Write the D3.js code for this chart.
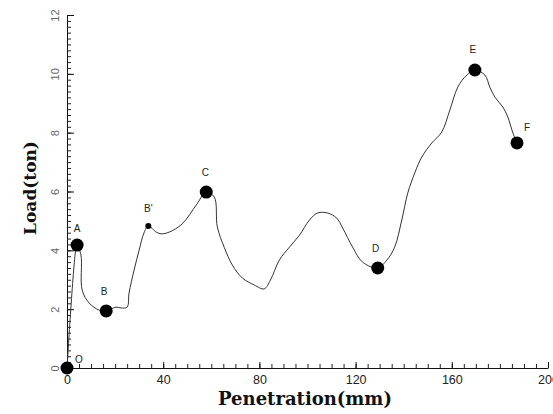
<!DOCTYPE html>
<html><head><meta charset="utf-8">
<script src="https://cdn.jsdelivr.net/npm/d3@7"></script>
<style>
html,body{margin:0;padding:0;background:#fff;}
svg{display:block;}
</style>
</head><body>
<svg id="chart" width="553" height="414"></svg>
<script>
// Load–penetration curve (trace)
const penetration = [0, 3.6, 4.2, 5.8, 6.3, 9.2, 13.3, 16.3, 20.4, 22.5, 25, 25.8, 27.9, 30, 32, 33.8, 37.1, 39.2, 42.5, 47.9, 53.75, 57.9, 61.25, 62.5, 65.4, 68.75, 72.9, 77.9, 82, 84.6, 88.3, 92.5, 96.7, 100.8, 104.2, 108.3, 112.1, 114.6, 118.75, 122.9, 129.2, 133, 136.25, 139.2, 141.7, 144.6, 147.5, 151.7, 155.8, 159.2, 162.5, 166.25, 169.6, 173.75, 175.8, 177.9, 181.25, 183.3, 185.4, 187.1];
const load = [0, 4.0, 4.18, 3.84, 2.65, 2.21, 1.97, 1.94, 2.07, 2.04, 2.07, 2.55, 3.33, 4.01, 4.59, 4.83, 4.62, 4.56, 4.62, 4.9, 5.54, 5.98, 5.81, 4.8, 4.1, 3.5, 3.06, 2.82, 2.69, 2.99, 3.67, 4.11, 4.52, 5.03, 5.27, 5.27, 5.1, 4.76, 4.11, 3.6, 3.4, 3.67, 4.11, 5.03, 5.95, 6.63, 7.17, 7.65, 8.02, 8.77, 9.55, 9.96, 10.13, 9.96, 9.55, 9.21, 8.87, 8.53, 7.99, 7.65];

// Marked points
const pointNames = ["O", "A", "B", "B'", "C", "D", "E", "F"];
const pointX = [0, 4.2, 16.3, 33.8, 57.9, 129.2, 169.6, 187.1];
const pointY = [0, 4.18, 1.94, 4.83, 5.98, 3.4, 10.13, 7.65];
const pointBig = [true, true, true, false, true, true, true, true];

const xTicks = [0, 40, 80, 120, 160, 200];
const yTicks = [0, 2, 4, 6, 8, 10, 12];

const svg = d3.select("#chart");
const x = d3.scaleLinear().domain([0, 200]).range([67, 548]);
const y = d3.scaleLinear().domain([0, 12]).range([368, 15]);

// minor ticks
svg.append("g").attr("transform", `translate(0,${y(0)})`)
  .call(d3.axisBottom(x).tickValues(d3.range(0, 201, 5)).tickSizeInner(-4).tickSizeOuter(0).tickFormat(""))
  .call(g => g.selectAll("line").attr("stroke", "#222"))
  .call(g => g.select(".domain").attr("stroke", "#111"));
svg.append("g").attr("transform", `translate(${x(0)},0)`)
  .call(d3.axisLeft(y).tickValues(d3.range(0, 12.01, 0.2)).tickSizeInner(-4).tickSizeOuter(0).tickFormat(""))
  .call(g => g.selectAll("line").attr("stroke", "#222"))
  .call(g => g.select(".domain").attr("stroke", "#111"));

// major ticks + labels
svg.append("g").attr("transform", `translate(0,${y(0)})`)
  .call(d3.axisBottom(x).tickValues(xTicks).tickSizeInner(-6).tickSizeOuter(0).tickPadding(7).tickFormat(d3.format("d")))
  .call(g => g.select(".domain").remove())
  .call(g => g.selectAll("line").attr("stroke", "#111"))
  .call(g => g.selectAll("text").attr("font-family", "Liberation Sans, Arial, sans-serif").attr("font-size", 12.5).attr("fill", "#222"));
svg.append("g").attr("transform", `translate(${x(0)},0)`)
  .call(d3.axisLeft(y).tickValues(yTicks).tickSizeInner(-7).tickSizeOuter(0).tickFormat(d3.format("d")))
  .call(g => g.select(".domain").remove())
  .call(g => g.selectAll("line").attr("stroke", "#111"))
  .call(g => g.selectAll("text")
    .attr("x", 0).attr("dy", 0)
    .attr("text-anchor", "middle")
    .attr("transform", "translate(-8,0) rotate(-90)")
    .attr("font-family", "Liberation Sans, Arial, sans-serif").attr("font-size", 11).attr("fill", "#666"));

// curve
const path = d3.line()
  .x(i => x(penetration[i])).y(i => y(load[i]))
  .curve(d3.curveCatmullRom.alpha(0.5));
svg.append("path")
  .attr("d", path(d3.range(penetration.length)))
  .attr("fill", "none").attr("stroke", "#333").attr("stroke-width", 1);

// marker points
const idx = d3.range(pointNames.length);
svg.append("g").selectAll("circle").data(idx).join("circle")
  .attr("cx", i => x(pointX[i])).attr("cy", i => y(pointY[i]))
  .attr("r", i => pointBig[i] ? 6.5 : 3)
  .attr("fill", "#000");

const labelDx = [8, 0, -2, 0, -1, -2, -2, 10];
const labelDy = [-5, -13, -16, -14, -16, -16, -17, -12];
svg.append("g").selectAll("text").data(idx).join("text")
  .attr("x", i => x(pointX[i]) + labelDx[i]).attr("y", i => y(pointY[i]) + labelDy[i])
  .attr("text-anchor", i => i === 0 ? "start" : "middle")
  .attr("font-family", "Liberation Sans, Arial, sans-serif").attr("font-size", 10)
  .attr("fill", "#222")
  .text(i => pointNames[i]);

// axis titles
svg.append("text")
  .attr("x", 305).attr("y", 405)
  .attr("text-anchor", "middle")
  .attr("font-family", "DejaVu Serif, serif").attr("font-weight", "bold").attr("font-size", 18)
  .attr("fill", "#111")
  .text("Penetration(mm)");
svg.append("text")
  .attr("transform", "translate(36,188) rotate(-90)")
  .attr("text-anchor", "middle")
  .attr("font-family", "DejaVu Serif, serif").attr("font-weight", "bold").attr("font-size", 17)
  .attr("fill", "#111")
  .text("Load(ton)");
</script>
</body></html>
